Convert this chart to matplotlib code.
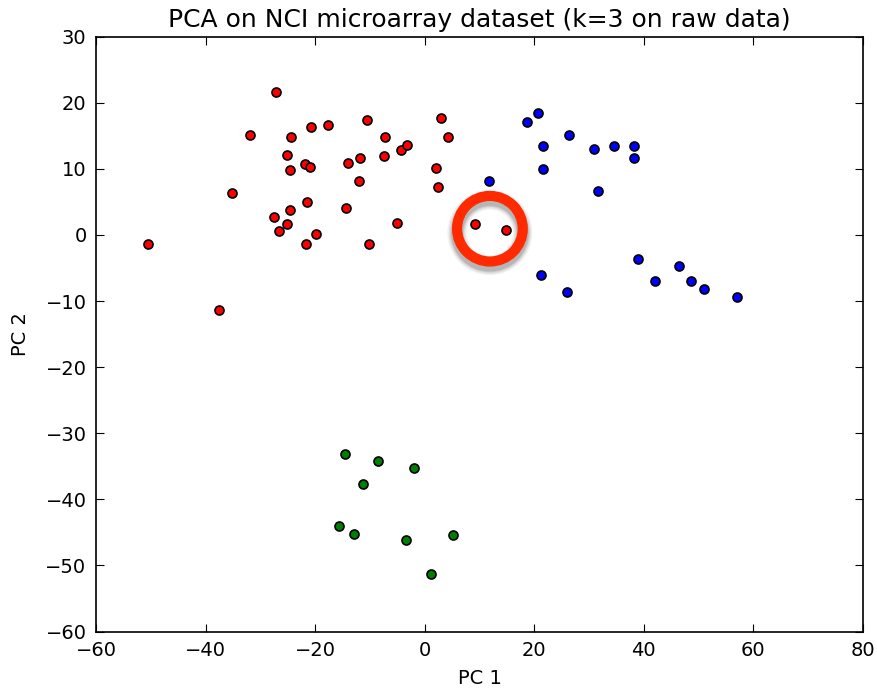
import matplotlib
matplotlib.use("Agg")
import matplotlib.pyplot as plt
from matplotlib.patches import Ellipse

red_x = [-27.1, -31.9, -24.4, -20.7, -17.7, -10.6, -7.2, 3.0, 4.2, -25.2, -21.8, -21.0,
         -24.6, -14.1, -11.8, -7.5, -4.3, -3.2, 2.1, 2.5, -12.1, -35.2, -21.6, -24.6,
         -27.5, -25.2, -26.6, -14.4, -5.1, -19.9, -21.7, -10.2, -50.5, -37.6, 9.1, 14.9]
red_y = [21.6, 15.1, 14.9, 16.3, 16.7, 17.4, 14.9, 17.7, 14.9, 12.1, 10.8, 10.3,
         9.9, 10.9, 11.6, 12.0, 12.9, 13.6, 10.2, 7.2, 8.2, 6.4, 5.0, 3.8,
         2.7, 1.6, 0.6, 4.1, 1.8, 0.2, -1.3, -1.4, -1.3, -11.3, 1.6, 0.7]

blue_x = [18.6, 20.6, 26.3, 21.6, 30.9, 34.6, 38.2, 38.2, 21.6, 11.8, 31.6,
          39.0, 46.5, 42.0, 48.6, 51.0, 57.1, 21.3, 26.0]
blue_y = [17.1, 18.4, 15.2, 13.5, 13.0, 13.4, 13.5, 11.6, 10.0, 8.2, 6.7,
          -3.6, -4.7, -6.9, -7.0, -8.1, -9.4, -6.0, -8.7]

green_x = [-14.5, -8.5, -2.0, -11.2, -15.6, -12.9, -3.5, 5.2, 1.2]
green_y = [-33.2, -34.2, -35.3, -37.6, -44.1, -45.2, -46.2, -45.4, -51.3]

highlight_center = (11.9, 0.95)

fig = plt.figure(figsize=(8.77, 6.91), dpi=100)
ax = fig.add_axes([0.1098, 0.0860, 0.8739, 0.8609])

for xs, ys, c in [(red_x, red_y, "red"), (blue_x, blue_y, "blue"), (green_x, green_y, "green")]:
    ax.scatter(xs, ys, s=42, c=c, edgecolors="black", linewidths=1.2, zorder=3)

# highlight ring (radius ~33 px in display) with a soft drop shadow
sx = 765.6 / 140.0
sy = 595.0 / 90.0
w = 2 * 32.8 / sx
h = 2 * 32.8 / sy
cx, cy = highlight_center
for lw, a in [(14, 0.05), (12, 0.07), (10, 0.09), (8.5, 0.10)]:
    ax.add_patch(Ellipse((cx, cy - 4.0 / sy), width=w, height=h, fill=False,
                         edgecolor="black", alpha=a, linewidth=lw, zorder=3.5))
ax.add_patch(Ellipse((cx, cy), width=w, height=h, fill=False,
                     edgecolor="#ff2a00", linewidth=7.3, zorder=4))

ax.set_xlim(-60, 80)
ax.set_ylim(-60, 30)
ax.set_xticks(range(-60, 81, 20))
ax.set_yticks(range(-60, 31, 10))
ax.tick_params(direction="in", top=True, right=True, length=6, width=0.8,
               labelsize=14, pad=7, colors="black")
for s in ax.spines.values():
    s.set_linewidth(1.2)

ax.set_title("PCA on NCI microarray dataset (k=3 on raw data)", fontsize=18, pad=7)
ax.set_xlabel("PC 1", fontsize=14, labelpad=6)
ax.set_ylabel("PC 2", fontsize=14, labelpad=11)

fig.savefig("out.png", dpi=100)
